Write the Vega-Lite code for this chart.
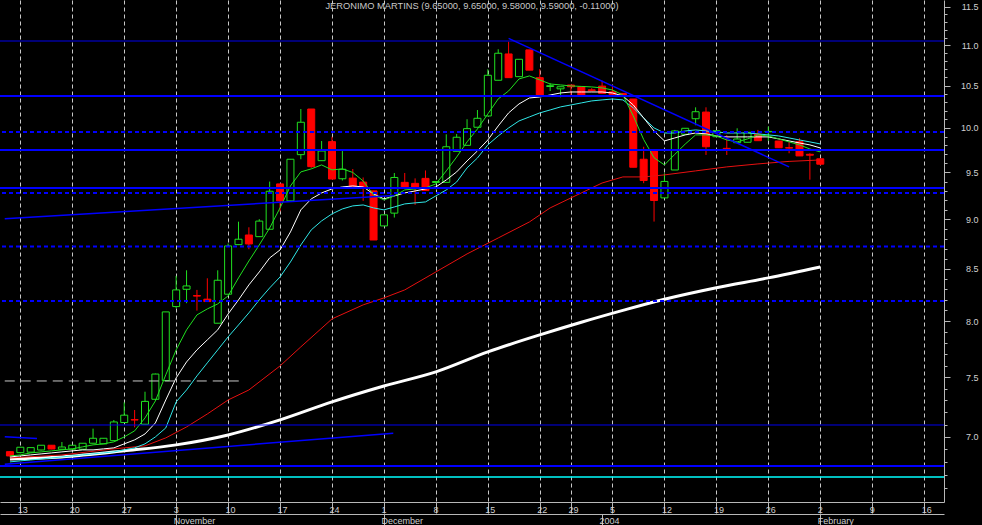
{
  "$schema": "https://vega.github.io/schema/vega-lite/v6.json",
  "width": 944,
  "height": 502,
  "autosize": {"type": "none"},
  "padding": {"left": 0, "top": 0, "right": 38, "bottom": 23},
  "background": "#000000",
  "config": {"view": {"stroke": null}, "font": "Liberation Sans"},
  "title": {"text": "JERONIMO MARTINS (9.65000, 9.65000, 9.58000, 9.59000, -0.11000)", "anchor": "middle", "frame": "group", "offset": -11, "fontSize": 9.3, "fontWeight": "normal", "color": "#c8c8c8", "font": "Liberation Sans"},
  "datasets": {
    "ohlc": [
      {"i": -1, "d": "2003-10-10", "o": 6.881, "h": 6.885, "l": 6.84, "c": 6.847},
      {"i": 0, "d": "2003-10-13", "o": 6.873, "h": 6.916, "l": 6.868, "c": 6.916},
      {"i": 1, "d": "2003-10-14", "o": 6.877, "h": 6.913, "l": 6.877, "c": 6.913},
      {"i": 2, "d": "2003-10-15", "o": 6.894, "h": 6.932, "l": 6.89, "c": 6.932},
      {"i": 3, "d": "2003-10-16", "o": 6.932, "h": 6.932, "l": 6.9, "c": 6.902},
      {"i": 4, "d": "2003-10-17", "o": 6.9, "h": 6.958, "l": 6.9, "c": 6.918},
      {"i": 5, "d": "2003-10-20", "o": 6.9, "h": 6.932, "l": 6.9, "c": 6.932},
      {"i": 6, "d": "2003-10-21", "o": 6.9, "h": 6.948, "l": 6.9, "c": 6.948},
      {"i": 7, "d": "2003-10-22", "o": 6.948, "h": 7.066, "l": 6.948, "c": 6.988},
      {"i": 8, "d": "2003-10-23", "o": 6.943, "h": 6.988, "l": 6.943, "c": 6.988},
      {"i": 9, "d": "2003-10-24", "o": 6.969, "h": 7.137, "l": 6.969, "c": 7.121},
      {"i": 10, "d": "2003-10-27", "o": 7.116, "h": 7.284, "l": 7.116, "c": 7.177},
      {"i": 11, "d": "2003-10-28", "o": 7.14, "h": 7.22, "l": 7.077, "c": 7.137},
      {"i": 12, "d": "2003-10-29", "o": 7.102, "h": 7.374, "l": 7.102, "c": 7.292},
      {"i": 13, "d": "2003-10-30", "o": 7.31, "h": 7.53, "l": 7.3, "c": 7.526},
      {"i": 14, "d": "2003-10-31", "o": 7.469, "h": 8.086, "l": 7.469, "c": 8.086},
      {"i": 15, "d": "2003-11-03", "o": 8.136, "h": 8.429, "l": 8.12, "c": 8.294},
      {"i": 16, "d": "2003-11-04", "o": 8.3, "h": 8.484, "l": 8.168, "c": 8.332},
      {"i": 17, "d": "2003-11-05", "o": 8.24, "h": 8.294, "l": 8.098, "c": 8.235},
      {"i": 18, "d": "2003-11-06", "o": 8.206, "h": 8.406, "l": 8.183, "c": 8.183},
      {"i": 19, "d": "2003-11-07", "o": 7.981, "h": 8.484, "l": 7.981, "c": 8.387},
      {"i": 20, "d": "2003-11-10", "o": 8.253, "h": 8.75, "l": 8.253, "c": 8.726},
      {"i": 21, "d": "2003-11-11", "o": 8.739, "h": 8.974, "l": 8.739, "c": 8.794},
      {"i": 22, "d": "2003-11-12", "o": 8.837, "h": 8.916, "l": 8.693, "c": 8.746},
      {"i": 23, "d": "2003-11-13", "o": 8.82, "h": 9.0, "l": 8.82, "c": 8.98},
      {"i": 24, "d": "2003-11-14", "o": 8.896, "h": 9.399, "l": 8.896, "c": 9.295},
      {"i": 25, "d": "2003-11-17", "o": 9.374, "h": 9.374, "l": 9.08, "c": 9.192},
      {"i": 26, "d": "2003-11-18", "o": 9.192, "h": 9.645, "l": 9.192, "c": 9.645},
      {"i": 27, "d": "2003-11-19", "o": 9.696, "h": 10.221, "l": 9.645, "c": 10.066},
      {"i": 28, "d": "2003-11-20", "o": 10.221, "h": 10.221, "l": 9.55, "c": 9.563},
      {"i": 29, "d": "2003-11-21", "o": 9.629, "h": 9.85, "l": 9.629, "c": 9.737},
      {"i": 30, "d": "2003-11-24", "o": 9.843, "h": 9.899, "l": 9.427, "c": 9.427},
      {"i": 31, "d": "2003-11-25", "o": 9.43, "h": 9.737, "l": 9.411, "c": 9.534},
      {"i": 32, "d": "2003-11-26", "o": 9.437, "h": 9.537, "l": 9.345, "c": 9.345},
      {"i": 33, "d": "2003-11-27", "o": 9.394, "h": 9.444, "l": 9.192, "c": 9.332},
      {"i": 34, "d": "2003-11-28", "o": 9.299, "h": 9.299, "l": 8.786, "c": 8.786},
      {"i": 35, "d": "2003-12-01", "o": 8.93, "h": 9.045, "l": 8.93, "c": 9.045},
      {"i": 36, "d": "2003-12-02", "o": 9.063, "h": 9.493, "l": 9.017, "c": 9.444},
      {"i": 37, "d": "2003-12-03", "o": 9.391, "h": 9.493, "l": 9.335, "c": 9.335},
      {"i": 38, "d": "2003-12-04", "o": 9.38, "h": 9.434, "l": 9.15, "c": 9.326},
      {"i": 39, "d": "2003-12-05", "o": 9.434, "h": 9.521, "l": 9.302, "c": 9.302},
      {"i": 40, "d": "2003-12-08", "o": 9.39, "h": 9.4, "l": 9.39, "c": 9.4},
      {"i": 41, "d": "2003-12-09", "o": 9.391, "h": 9.927, "l": 9.391, "c": 9.785},
      {"i": 42, "d": "2003-12-10", "o": 9.734, "h": 9.93, "l": 9.734, "c": 9.893},
      {"i": 43, "d": "2003-12-11", "o": 9.801, "h": 10.101, "l": 9.801, "c": 9.992},
      {"i": 44, "d": "2003-12-12", "o": 10.008, "h": 10.209, "l": 10.008, "c": 10.112},
      {"i": 45, "d": "2003-12-15", "o": 10.139, "h": 10.701, "l": 10.139, "c": 10.627},
      {"i": 46, "d": "2003-12-16", "o": 10.566, "h": 10.951, "l": 10.566, "c": 10.901},
      {"i": 47, "d": "2003-12-17", "o": 10.892, "h": 11.047, "l": 10.598, "c": 10.598},
      {"i": 48, "d": "2003-12-18", "o": 10.61, "h": 10.825, "l": 10.61, "c": 10.825},
      {"i": 49, "d": "2003-12-19", "o": 10.943, "h": 10.943, "l": 10.69, "c": 10.69},
      {"i": 50, "d": "2003-12-22", "o": 10.598, "h": 10.703, "l": 10.379, "c": 10.379},
      {"i": 51, "d": "2003-12-23", "o": 10.49, "h": 10.53, "l": 10.435, "c": 10.5},
      {"i": 52, "d": "2003-12-24", "o": 10.462, "h": 10.487, "l": 10.36, "c": 10.487},
      {"i": 53, "d": "2003-12-29", "o": 10.508, "h": 10.508, "l": 10.36, "c": 10.487},
      {"i": 54, "d": "2003-12-30", "o": 10.487, "h": 10.487, "l": 10.387, "c": 10.387},
      {"i": 55, "d": "2003-12-31", "o": 10.45, "h": 10.47, "l": 10.43, "c": 10.44},
      {"i": 56, "d": "2004-01-02", "o": 10.495, "h": 10.56, "l": 10.407, "c": 10.407},
      {"i": 57, "d": "2004-01-05", "o": 10.426, "h": 10.508, "l": 10.395, "c": 10.395},
      {"i": 58, "d": "2004-01-06", "o": 10.407, "h": 10.407, "l": 10.379, "c": 10.379},
      {"i": 59, "d": "2004-01-07", "o": 10.34, "h": 10.34, "l": 9.556, "c": 9.556},
      {"i": 60, "d": "2004-01-08", "o": 9.645, "h": 9.785, "l": 9.382, "c": 9.411},
      {"i": 61, "d": "2004-01-09", "o": 9.737, "h": 9.737, "l": 8.975, "c": 9.196},
      {"i": 62, "d": "2004-01-12", "o": 9.224, "h": 9.49, "l": 9.224, "c": 9.401},
      {"i": 63, "d": "2004-01-13", "o": 9.526, "h": 9.977, "l": 9.526, "c": 9.965},
      {"i": 64, "d": "2004-01-14", "o": 9.927, "h": 9.996, "l": 9.927, "c": 9.996},
      {"i": 65, "d": "2004-01-15", "o": 10.107, "h": 10.241, "l": 10.031, "c": 10.189},
      {"i": 66, "d": "2004-01-16", "o": 10.185, "h": 10.241, "l": 9.693, "c": 9.785},
      {"i": 67, "d": "2004-01-19", "o": 9.899, "h": 9.968, "l": 9.899, "c": 9.968},
      {"i": 68, "d": "2004-01-20", "o": 9.767, "h": 9.918, "l": 9.693, "c": 9.748},
      {"i": 69, "d": "2004-01-21", "o": 9.831, "h": 9.996, "l": 9.831, "c": 9.873},
      {"i": 70, "d": "2004-01-22", "o": 9.836, "h": 9.95, "l": 9.836, "c": 9.95},
      {"i": 71, "d": "2004-01-23", "o": 9.927, "h": 9.977, "l": 9.854, "c": 9.854},
      {"i": 72, "d": "2004-01-26", "o": 9.955, "h": 10.015, "l": 9.854, "c": 9.96},
      {"i": 73, "d": "2004-01-27", "o": 9.85, "h": 9.85, "l": 9.774, "c": 9.774},
      {"i": 74, "d": "2004-01-28", "o": 9.775, "h": 9.843, "l": 9.712, "c": 9.77},
      {"i": 75, "d": "2004-01-29", "o": 9.843, "h": 9.882, "l": 9.682, "c": 9.682},
      {"i": 76, "d": "2004-01-30", "o": 9.7, "h": 9.712, "l": 9.42, "c": 9.69},
      {"i": 77, "d": "2004-02-02", "o": 9.65, "h": 9.65, "l": 9.58, "c": 9.59}
    ],
    "ma": [
      {"i": -1, "m5": 6.847, "m10": 6.839, "m20": 6.8},
      {"i": 0, "m5": 6.855, "m10": 6.847, "m20": 6.808},
      {"i": 1, "m5": 6.871, "m10": 6.855, "m20": 6.815},
      {"i": 2, "m5": 6.879, "m10": 6.863, "m20": 6.823},
      {"i": 3, "m5": 6.887, "m10": 6.871, "m20": 6.831},
      {"i": 4, "m5": 6.895, "m10": 6.879, "m20": 6.839},
      {"i": 5, "m5": 6.903, "m10": 6.887, "m20": 6.847},
      {"i": 6, "m5": 6.919, "m10": 6.895, "m20": 6.855},
      {"i": 7, "m5": 6.935, "m10": 6.895, "m20": 6.863},
      {"i": 8, "m5": 6.943, "m10": 6.903, "m20": 6.871},
      {"i": 9, "m5": 6.959, "m10": 6.911, "m20": 6.879},
      {"i": 10, "m5": 6.999, "m10": 6.943, "m20": 6.895},
      {"i": 11, "m5": 7.048, "m10": 6.975, "m20": 6.911},
      {"i": 12, "m5": 7.154, "m10": 7.023, "m20": 6.943},
      {"i": 13, "m5": 7.296, "m10": 7.113, "m20": 6.999},
      {"i": 14, "m5": 7.519, "m10": 7.304, "m20": 7.072},
      {"i": 15, "m5": 7.739, "m10": 7.493, "m20": 7.288},
      {"i": 16, "m5": 7.92, "m10": 7.632, "m20": 7.389},
      {"i": 17, "m5": 8.058, "m10": 7.739, "m20": 7.51},
      {"i": 18, "m5": 8.114, "m10": 7.829, "m20": 7.624},
      {"i": 19, "m5": 8.161, "m10": 7.92, "m20": 7.739},
      {"i": 20, "m5": 8.237, "m10": 8.067, "m20": 7.856},
      {"i": 21, "m5": 8.41, "m10": 8.199, "m20": 7.965},
      {"i": 22, "m5": 8.576, "m10": 8.342, "m20": 8.077},
      {"i": 23, "m5": 8.736, "m10": 8.468, "m20": 8.199},
      {"i": 24, "m5": 8.909, "m10": 8.606, "m20": 8.313},
      {"i": 25, "m5": 9.118, "m10": 8.686, "m20": 8.419},
      {"i": 26, "m5": 9.352, "m10": 8.868, "m20": 8.566},
      {"i": 27, "m5": 9.505, "m10": 9.097, "m20": 8.736},
      {"i": 28, "m5": 9.538, "m10": 9.213, "m20": 8.889},
      {"i": 29, "m5": 9.582, "m10": 9.277, "m20": 8.982},
      {"i": 30, "m5": 9.527, "m10": 9.32, "m20": 9.055},
      {"i": 31, "m5": 9.538, "m10": 9.341, "m20": 9.107},
      {"i": 32, "m5": 9.499, "m10": 9.352, "m20": 9.139},
      {"i": 33, "m5": 9.406, "m10": 9.341, "m20": 9.149},
      {"i": 34, "m5": 9.256, "m10": 9.266, "m20": 9.118},
      {"i": 35, "m5": 9.202, "m10": 9.213, "m20": 9.097},
      {"i": 36, "m5": 9.245, "m10": 9.245, "m20": 9.128},
      {"i": 37, "m5": 9.309, "m10": 9.277, "m20": 9.16},
      {"i": 38, "m5": 9.32, "m10": 9.298, "m20": 9.171},
      {"i": 39, "m5": 9.331, "m10": 9.32, "m20": 9.181},
      {"i": 40, "m5": 9.374, "m10": 9.341, "m20": 9.245},
      {"i": 41, "m5": 9.516, "m10": 9.417, "m20": 9.309},
      {"i": 42, "m5": 9.67, "m10": 9.505, "m20": 9.395},
      {"i": 43, "m5": 9.84, "m10": 9.626, "m20": 9.549},
      {"i": 44, "m5": 9.988, "m10": 9.738, "m20": 9.659},
      {"i": 45, "m5": 10.163, "m10": 9.862, "m20": 9.806},
      {"i": 46, "m5": 10.341, "m10": 10.023, "m20": 9.908},
      {"i": 47, "m5": 10.436, "m10": 10.175, "m20": 10.0},
      {"i": 48, "m5": 10.582, "m10": 10.281, "m20": 10.081},
      {"i": 49, "m5": 10.619, "m10": 10.352, "m20": 10.128},
      {"i": 50, "m5": 10.57, "m10": 10.364, "m20": 10.175},
      {"i": 51, "m5": 10.521, "m10": 10.388, "m20": 10.21},
      {"i": 52, "m5": 10.509, "m10": 10.412, "m20": 10.246},
      {"i": 53, "m5": 10.497, "m10": 10.424, "m20": 10.269},
      {"i": 54, "m5": 10.491, "m10": 10.424, "m20": 10.293},
      {"i": 55, "m5": 10.485, "m10": 10.424, "m20": 10.317},
      {"i": 56, "m5": 10.473, "m10": 10.424, "m20": 10.329},
      {"i": 57, "m5": 10.448, "m10": 10.412, "m20": 10.34},
      {"i": 58, "m5": 10.388, "m10": 10.376, "m20": 10.329},
      {"i": 59, "m5": 10.14, "m10": 10.269, "m20": 10.234},
      {"i": 60, "m5": 9.867, "m10": 10.116, "m20": 10.116},
      {"i": 61, "m5": 9.661, "m10": 9.965, "m20": 10.0},
      {"i": 62, "m5": 9.582, "m10": 9.851, "m20": 9.942},
      {"i": 63, "m5": 9.7, "m10": 9.885, "m20": 9.942},
      {"i": 64, "m5": 9.815, "m10": 9.92, "m20": 9.965},
      {"i": 65, "m5": 9.92, "m10": 9.942, "m20": 9.977},
      {"i": 66, "m5": 9.92, "m10": 9.931, "m20": 9.965},
      {"i": 67, "m5": 9.908, "m10": 9.908, "m20": 9.954},
      {"i": 68, "m5": 9.862, "m10": 9.897, "m20": 9.942},
      {"i": 69, "m5": 9.84, "m10": 9.897, "m20": 9.942},
      {"i": 70, "m5": 9.874, "m10": 9.897, "m20": 9.942},
      {"i": 71, "m5": 9.92, "m10": 9.897, "m20": 9.931},
      {"i": 72, "m5": 9.908, "m10": 9.897, "m20": 9.92},
      {"i": 73, "m5": 9.874, "m10": 9.874, "m20": 9.908},
      {"i": 74, "m5": 9.84, "m10": 9.851, "m20": 9.885},
      {"i": 75, "m5": 9.806, "m10": 9.828, "m20": 9.862},
      {"i": 76, "m5": 9.76, "m10": 9.806, "m20": 9.84},
      {"i": 77, "m5": 9.727, "m10": 9.772, "m20": 9.817}
    ],
    "m50": [
      {"i": -1, "v": 6.831}, {"i": 4, "v": 6.855}, {"i": 9, "v": 6.903}, {"i": 12, "v": 6.927},
      {"i": 14, "v": 6.991}, {"i": 16, "v": 7.08}, {"i": 18, "v": 7.187}, {"i": 20, "v": 7.304},
      {"i": 22, "v": 7.389}, {"i": 25, "v": 7.597}, {"i": 27, "v": 7.766}, {"i": 30, "v": 8.021},
      {"i": 33, "v": 8.152}, {"i": 35, "v": 8.218}, {"i": 37, "v": 8.294}, {"i": 40, "v": 8.468},
      {"i": 43, "v": 8.646}, {"i": 46, "v": 8.807}, {"i": 49, "v": 8.971}, {"i": 51, "v": 9.118},
      {"i": 54, "v": 9.277}, {"i": 56, "v": 9.384}, {"i": 58, "v": 9.45}, {"i": 60, "v": 9.45},
      {"i": 62, "v": 9.472}, {"i": 65, "v": 9.516}, {"i": 68, "v": 9.56}, {"i": 71, "v": 9.593},
      {"i": 74, "v": 9.621}, {"i": 77, "v": 9.637}
    ],
    "m200": [
      {"i": -1, "v": 6.823}, {"i": 4, "v": 6.839}, {"i": 10, "v": 6.887}, {"i": 15, "v": 6.935},
      {"i": 20, "v": 7.015}, {"i": 25, "v": 7.138}, {"i": 30, "v": 7.288}, {"i": 35, "v": 7.423},
      {"i": 40, "v": 7.545}, {"i": 45, "v": 7.721}, {"i": 50, "v": 7.874}, {"i": 54, "v": 7.99},
      {"i": 58, "v": 8.1}, {"i": 62, "v": 8.205}, {"i": 67, "v": 8.315}, {"i": 72, "v": 8.41},
      {"i": 77, "v": 8.517}
    ],
    "trend": [
      {"line": "down", "i": 47, "v": 11.09}, {"line": "down", "i": 74, "v": 9.56},
      {"line": "upper", "i": -1.5, "v": 9.005}, {"line": "upper", "i": 36, "v": 9.25},
      {"line": "lower", "i": -1.5, "v": 6.781}, {"line": "lower", "i": 35.9, "v": 7.029},
      {"line": "short", "i": -1.5, "v": 7.001}, {"line": "short", "i": 1.6, "v": 6.986}
    ]
  },
  "resolve": {"scale": {"x": "shared", "y": "shared"}, "axis": {"x": "independent", "y": "shared"}},
  "layer": [
    {
      "data": {"name": "ohlc"},
      "mark": {"type": "rule", "strokeWidth": 1},
      "encoding": {
        "x": {"field": "i", "type": "quantitative", "title": null,
          "scale": {"domain": [-1.4762, 88.4286], "nice": false, "zero": false},
          "axis": {
            "orient": "bottom",
            "values": [0, 5, 10, 15, 20, 25, 30, 35, 40, 45, 50, 53, 57, 62, 67, 72, 77, 82, 87],
            "labelExpr": "['13','20','27','3','10','17','24','1','8','15','22','29','5','12','19','26','2','9','16'][indexof([0,5,10,15,20,25,30,35,40,45,50,53,57,62,67,72,77,82,87], datum.value)]",
            "grid": true, "gridColor": "#c8c8c8", "gridDash": [4, 3], "gridWidth": 1,
            "domainColor": "#b8b8b8", "tickColor": "#b8b8b8", "tickSize": 11,
            "labelAlign": "left", "labelBaseline": "top", "labelPadding": -8, "labelOffset": -3,
            "labelColor": "#d0d0d0", "labelFont": "Liberation Sans", "labelFontSize": 9,
            "labelOverlap": false, "labelFlush": false, "title": null
          }
        },
        "y": {"field": "l", "type": "quantitative", "title": null,
          "scale": {"type": "log", "domain": [6.4922, 11.5922], "nice": false, "zero": false},
          "axis": {
            "orient": "right",
            "values": [6.6, 6.7, 6.8, 6.9, 7.0, 7.1, 7.2, 7.3, 7.4, 7.5, 7.6, 7.7, 7.8, 7.9, 8.0, 8.1, 8.2, 8.3, 8.4, 8.5, 8.6, 8.7, 8.8, 8.9, 9.0, 9.1, 9.2, 9.3, 9.4, 9.5, 9.6, 9.7, 9.8, 9.9, 10.0, 10.1, 10.2, 10.3, 10.4, 10.5, 10.6, 10.7, 10.8, 10.9, 11.0, 11.1, 11.2, 11.3, 11.4, 11.5],
            "labelExpr": "abs(datum.value*2-round(datum.value*2))<0.01 ? format(datum.value, '.1f') : ''",
            "tickSize": {"condition": {"test": "abs(datum.value*2-round(datum.value*2))<0.01", "value": 6}, "value": 3},
            "tickColor": "#b8b8b8", "domainColor": "#b8b8b8",
            "labelColor": "#d0d0d0", "labelFont": "Liberation Sans", "labelFontSize": 9,
            "labelAlign": "right", "labelPadding": 28, "labelOverlap": false, "labelFlush": false,
            "grid": false, "title": null
          }
        },
        "y2": {"field": "h"},
        "color": {"condition": {"test": "datum.c >= datum.o", "value": "#20e020"}, "value": "#ff0000"}
      }
    },
    {
      "data": {"name": "ohlc"},
      "mark": {"type": "bar", "size": 7, "strokeWidth": 1},
      "encoding": {
        "x": {"field": "i", "type": "quantitative", "title": null, "scale": {"domain": [-1.4762, 88.4286], "nice": false, "zero": false}, "axis": null},
        "y": {"field": "o", "type": "quantitative", "title": null, "scale": {"type": "log", "domain": [6.4922, 11.5922], "nice": false, "zero": false}},
        "y2": {"field": "c"},
        "fill": {"condition": {"test": "datum.c >= datum.o", "value": "#000000"}, "value": "#ff0000"},
        "stroke": {"condition": {"test": "datum.c >= datum.o", "value": "#20e020"}, "value": "#ff0000"}
      }
    },
    {
      "data": {"name": "m200"},
      "mark": {"type": "line", "color": "#ffffff", "strokeWidth": 3, "clip": true, "interpolate": "monotone"},
      "encoding": {
        "x": {"field": "i", "type": "quantitative", "title": null, "scale": {"domain": [-1.4762, 88.4286], "nice": false, "zero": false}, "axis": null},
        "y": {"field": "v", "type": "quantitative", "title": null, "scale": {"type": "log", "domain": [6.4922, 11.5922], "nice": false, "zero": false}}
      }
    },
    {
      "data": {"name": "m50"},
      "mark": {"type": "line", "color": "#e81010", "strokeWidth": 1, "clip": true},
      "encoding": {
        "x": {"field": "i", "type": "quantitative", "title": null, "scale": {"domain": [-1.4762, 88.4286], "nice": false, "zero": false}, "axis": null},
        "y": {"field": "v", "type": "quantitative", "title": null, "scale": {"type": "log", "domain": [6.4922, 11.5922], "nice": false, "zero": false}}
      }
    },
    {
      "data": {"name": "ma"},
      "mark": {"type": "line", "color": "#30e8e8", "strokeWidth": 1, "clip": true},
      "encoding": {
        "x": {"field": "i", "type": "quantitative", "title": null, "scale": {"domain": [-1.4762, 88.4286], "nice": false, "zero": false}, "axis": null},
        "y": {"field": "m20", "type": "quantitative", "title": null, "scale": {"type": "log", "domain": [6.4922, 11.5922], "nice": false, "zero": false}}
      }
    },
    {
      "data": {"name": "ma"},
      "mark": {"type": "line", "color": "#ffffff", "strokeWidth": 1, "clip": true},
      "encoding": {
        "x": {"field": "i", "type": "quantitative", "title": null, "scale": {"domain": [-1.4762, 88.4286], "nice": false, "zero": false}, "axis": null},
        "y": {"field": "m10", "type": "quantitative", "title": null, "scale": {"type": "log", "domain": [6.4922, 11.5922], "nice": false, "zero": false}}
      }
    },
    {
      "data": {"name": "ma"},
      "mark": {"type": "line", "color": "#20e020", "strokeWidth": 1, "clip": true},
      "encoding": {
        "x": {"field": "i", "type": "quantitative", "title": null, "scale": {"domain": [-1.4762, 88.4286], "nice": false, "zero": false}, "axis": null},
        "y": {"field": "m5", "type": "quantitative", "title": null, "scale": {"type": "log", "domain": [6.4922, 11.5922], "nice": false, "zero": false}}
      }
    },
    {
      "data": {"values": [{"level": 10.375}, {"level": 9.749}, {"level": 9.331}, {"level": 6.768}]},
      "mark": {"type": "rule", "color": "#0000ff", "strokeWidth": 2},
      "encoding": {"y": {"field": "level", "type": "quantitative", "title": null, "scale": {"type": "log", "domain": [6.4922, 11.5922], "nice": false, "zero": false}}}
    },
    {
      "data": {"values": [{"level": 11.056}, {"level": 7.096}]},
      "mark": {"type": "rule", "color": "#0000ee", "strokeWidth": 1},
      "encoding": {"y": {"field": "level", "type": "quantitative", "title": null, "scale": {"type": "log", "domain": [6.4922, 11.5922], "nice": false, "zero": false}}}
    },
    {
      "data": {"values": [{"level": 9.953}, {"level": 9.277}, {"level": 8.721}, {"level": 8.189}]},
      "mark": {"type": "rule", "color": "#0000ff", "strokeWidth": 2, "strokeDash": [4, 3]},
      "encoding": {"y": {"field": "level", "type": "quantitative", "title": null, "scale": {"type": "log", "domain": [6.4922, 11.5922], "nice": false, "zero": false}}}
    },
    {
      "data": {"values": [{"level": 6.683}]},
      "mark": {"type": "rule", "color": "#00ffff", "strokeWidth": 1.5},
      "encoding": {"y": {"field": "level", "type": "quantitative", "title": null, "scale": {"type": "log", "domain": [6.4922, 11.5922], "nice": false, "zero": false}}}
    },
    {
      "data": {"name": "trend"},
      "mark": {"type": "line", "color": "#0000ff", "strokeWidth": 1.5, "clip": true},
      "encoding": {
        "x": {"field": "i", "type": "quantitative", "title": null, "scale": {"domain": [-1.4762, 88.4286], "nice": false, "zero": false}, "axis": null},
        "y": {"field": "v", "type": "quantitative", "title": null, "scale": {"type": "log", "domain": [6.4922, 11.5922], "nice": false, "zero": false}},
        "detail": {"field": "line", "type": "nominal"}
      }
    },
    {
      "data": {"values": [{"i": -1.5, "v": 7.466}, {"i": 21.4, "v": 7.466}]},
      "mark": {"type": "line", "color": "#c8c8c8", "strokeWidth": 1, "strokeDash": [10, 6], "clip": true},
      "encoding": {
        "x": {"field": "i", "type": "quantitative", "title": null,
          "scale": {"domain": [-1.4762, 88.4286], "nice": false, "zero": false},
          "axis": {
            "orient": "bottom",
            "values": [15, 35, 56, 77],
            "labelExpr": "['November','December','2004','February'][indexof([15,35,56,77], datum.value)]",
            "offset": 12, "grid": false,
            "domainColor": "#b8b8b8", "tickColor": "#b8b8b8", "tickSize": 11,
            "labelAlign": "left", "labelBaseline": "top", "labelPadding": -9, "labelOffset": -3,
            "labelColor": "#d0d0d0", "labelFont": "Liberation Sans", "labelFontSize": 9,
            "labelOverlap": false, "labelFlush": false, "title": null
          }
        },
        "y": {"field": "v", "type": "quantitative", "title": null, "scale": {"type": "log", "domain": [6.4922, 11.5922], "nice": false, "zero": false}}
      }
    }
  ]
}
